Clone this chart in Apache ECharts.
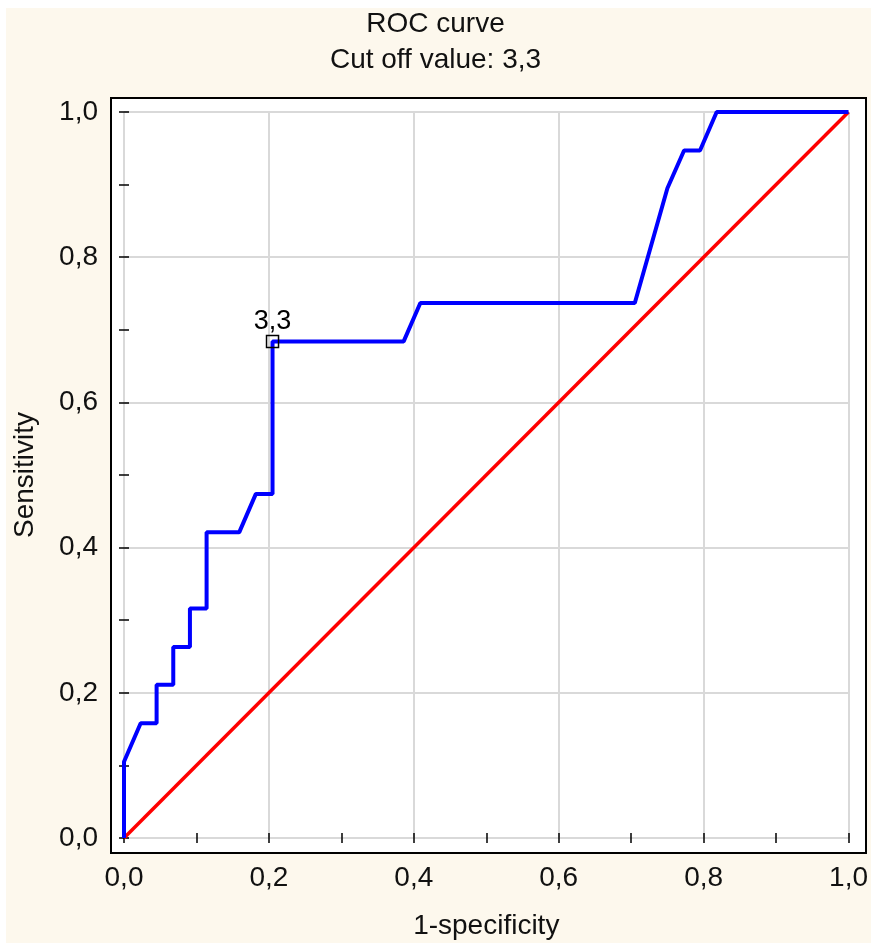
<!DOCTYPE html>
<html>
<head>
<meta charset="utf-8">
<title>ROC curve</title>
<script src="https://cdn.jsdelivr.net/npm/echarts@6/dist/echarts.min.js"></script>
<style>
    html, body {margin: 0; padding: 0; background: #ffffff;}
    #main {width: 871px; height: 945px;}
</style>
</head>
<body>
<div id="main"></div>
<script>
// ROC curve points (1-specificity, sensitivity)
var aFpr = [0, 0, 0.023, 0.045, 0.045, 0.068, 0.068, 0.091, 0.091, 0.114, 0.114, 0.159,
    0.182, 0.205, 0.205, 0.386, 0.409, 0.705, 0.750, 0.773, 0.795, 0.818, 1.0];
var aTpr = [0, 0.105, 0.158, 0.158, 0.211, 0.211, 0.263, 0.263, 0.316, 0.316, 0.421, 0.421,
    0.474, 0.474, 0.684, 0.684, 0.737, 0.737, 0.895, 0.947, 0.947, 1.0, 1.0];
// reference diagonal
var aDiagX = [0, 1];
var aDiagY = [0, 1];
// cut off point
var aCutX = [0.205];
var aCutY = [0.684];
var sCutLabel = '3,3';
var sFont = 'Liberation Sans, Arial, sans-serif';

function Pairs(aX, aY) {
    var aOut = [];
    for (var i = 0; i < aX.length; i++) {
        aOut.push([aX[i], aY[i]]);
    }
    return aOut
}

function Comma(v) {
    return v.toFixed(1).replace('.', ',');
}

// one axis with inward ticks every 0.1, sitting on the frame
function FrameAxis(sPos, iOffset, bLabel) {
    return {
        type: 'value',
        position: sPos,
        offset: iOffset,
        min: 0,
        max: 1,
        interval: 0.2,
        axisLine: {show: false},
        axisTick: {show: true, inside: true, length: 5, lineStyle: {color: '#000', width: 1.5}},
        minorTick: {show: true, splitNumber: 2, length: 5, lineStyle: {color: '#000', width: 1.5}},
        axisLabel: {
            show: bLabel,
            formatter: Comma,
            fontSize: 28,
            fontFamily: sFont,
            color: '#111',
            margin: 13
        },
        splitLine: {show: bLabel, lineStyle: {color: '#d9d9d9', width: 2}}
    }
}

function GetOption() {
    var xMain = FrameAxis('bottom', 13, true);
    xMain.name = '1-specificity';
    xMain.nameLocation = 'middle';
    xMain.nameGap = 61;
    xMain.nameTextStyle = {fontSize: 28, fontFamily: sFont, color: '#111'};

    var yMain = FrameAxis('left', 13, true);
    yMain.name = 'Sensitivity';
    yMain.nameLocation = 'middle';
    yMain.nameGap = 72;
    yMain.nameTextStyle = {fontSize: 28, fontFamily: sFont, color: '#111'};

    return {
        animation: false,
        backgroundColor: '#ffffff',
        title: [
            {text: 'ROC curve', left: 'center', top: 5,
                textStyle: {fontSize: 28, fontWeight: 'normal', fontFamily: sFont, color: '#111'}},
            {text: 'Cut off value: 3,3', left: 'center', top: 41,
                textStyle: {fontSize: 28, fontWeight: 'normal', fontFamily: sFont, color: '#111'}}
        ],
        graphic: [
            // cream page and white plot box with black frame
            {type: 'rect', z: -10, shape: {x: 6, y: 8, width: 865, height: 935},
                style: {fill: '#fdf8ed'}},
            {type: 'rect', z: -9, shape: {x: 111, y: 98, width: 755, height: 755},
                style: {fill: '#ffffff', stroke: '#000', lineWidth: 2}}
        ],
        grid: {left: 124, right: 21, top: 112, bottom: 105},
        xAxis: [xMain, FrameAxis('top', 14, false)],
        yAxis: [yMain, FrameAxis('right', 16, false)],
        series: [
            {
                type: 'line',
                data: Pairs(aDiagX, aDiagY),
                showSymbol: false,
                lineStyle: {color: '#ff0000', width: 3.5},
                z: 2
            },
            {
                type: 'line',
                data: Pairs(aFpr, aTpr),
                showSymbol: false,
                lineStyle: {color: '#0000ff', width: 4},
                z: 3
            },
            {
                type: 'scatter',
                data: Pairs(aCutX, aCutY),
                symbol: 'rect',
                symbolSize: 12,
                itemStyle: {color: 'rgba(0,0,0,0)', borderColor: '#000', borderWidth: 1.5, opacity: 1},
                label: {
                    show: true,
                    position: 'top',
                    distance: 0,
                    formatter: sCutLabel,
                    fontSize: 27,
                    fontFamily: sFont,
                    color: '#000'
                },
                z: 4
            }
        ]
    }
}

function drawChart(sTagID) {
    var oChart = echarts.init(document.getElementById(sTagID));
    oChart.setOption(GetOption());
    return oChart
}

drawChart('main');
</script>
</body>
</html>
